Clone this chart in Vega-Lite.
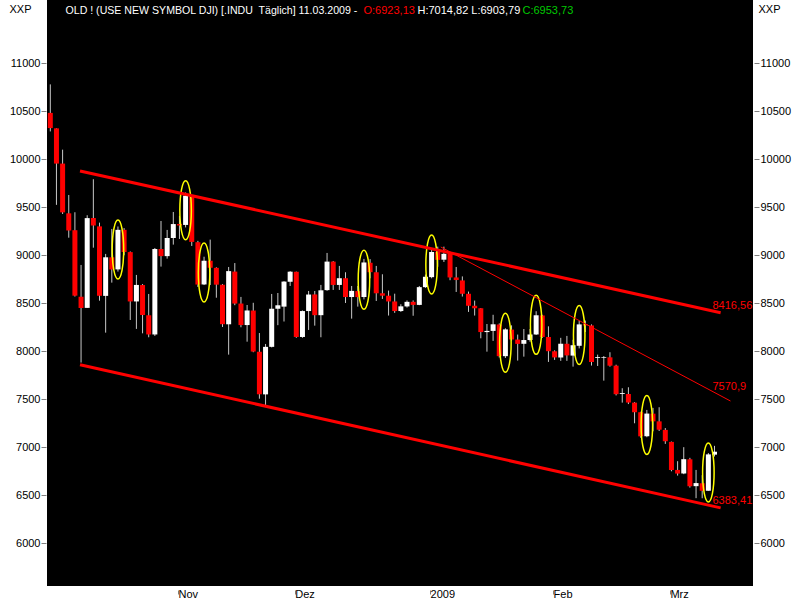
{
  "$schema": "https://vega.github.io/schema/vega-lite/v6.json",
  "width": 706,
  "height": 586,
  "autosize": {"type": "none"},
  "padding": {"left": 47, "top": 0, "right": 47, "bottom": 14},
  "background": "#ffffff",
  "config": {
    "view": {"fill": "#000000", "stroke": null},
    "font": "Liberation Sans",
    "scale": {"continuousPadding": 0},
    "axis": {
      "grid": false,
      "domain": false,
      "labelFont": "Liberation Sans",
      "titleFont": "Liberation Sans",
      "labelFontSize": 11,
      "titleFontSize": 11,
      "titleFontWeight": "normal",
      "labelColor": "#000000",
      "titleColor": "#000000",
      "tickColor": "#808080"
    }
  },
  "datasets": {
    "candles": [
      {"i": 0, "date": "2008-10-03", "open": 10483, "high": 10780, "low": 10290, "close": 10325},
      {"i": 1, "date": "2008-10-06", "open": 10322, "high": 10322, "low": 9525, "close": 9955},
      {"i": 2, "date": "2008-10-07", "open": 9955, "high": 10100, "low": 9430, "close": 9447},
      {"i": 3, "date": "2008-10-08", "open": 9437, "high": 9628, "low": 9183, "close": 9258},
      {"i": 4, "date": "2008-10-09", "open": 9261, "high": 9448, "low": 8570, "close": 8579},
      {"i": 5, "date": "2008-10-10", "open": 8568, "high": 8899, "low": 7882, "close": 8451},
      {"i": 6, "date": "2008-10-13", "open": 8452, "high": 9417, "low": 8452, "close": 9387},
      {"i": 7, "date": "2008-10-14", "open": 9388, "high": 9792, "low": 9079, "close": 9310},
      {"i": 8, "date": "2008-10-15", "open": 9301, "high": 9340, "low": 8527, "close": 8578},
      {"i": 9, "date": "2008-10-16", "open": 8577, "high": 9014, "low": 8194, "close": 8979},
      {"i": 10, "date": "2008-10-17", "open": 8979, "high": 9274, "low": 8715, "close": 8852},
      {"i": 11, "date": "2008-10-20", "open": 8853, "high": 9300, "low": 8830, "close": 9265},
      {"i": 12, "date": "2008-10-21", "open": 9265, "high": 9283, "low": 9000, "close": 9034},
      {"i": 13, "date": "2008-10-22", "open": 9033, "high": 9040, "low": 8326, "close": 8519},
      {"i": 14, "date": "2008-10-23", "open": 8519, "high": 8795, "low": 8233, "close": 8691},
      {"i": 15, "date": "2008-10-24", "open": 8690, "high": 8700, "low": 8187, "close": 8378},
      {"i": 16, "date": "2008-10-27", "open": 8375, "high": 8597, "low": 8146, "close": 8175},
      {"i": 17, "date": "2008-10-28", "open": 8175, "high": 9076, "low": 8160, "close": 9065},
      {"i": 18, "date": "2008-10-29", "open": 9065, "high": 9357, "low": 8882, "close": 8991},
      {"i": 19, "date": "2008-10-30", "open": 8991, "high": 9264, "low": 8965, "close": 9180},
      {"i": 20, "date": "2008-10-31", "open": 9180, "high": 9451, "low": 9111, "close": 9325},
      {"i": 21, "date": "2008-11-03", "open": 9326, "high": 9410, "low": 9170, "close": 9310},
      {"i": 22, "date": "2008-11-04", "open": 9316, "high": 9654, "low": 9290, "close": 9621},
      {"i": 23, "date": "2008-11-05", "open": 9617, "high": 9625, "low": 9097, "close": 9139},
      {"i": 24, "date": "2008-11-06", "open": 9136, "high": 9150, "low": 8670, "close": 8695},
      {"i": 25, "date": "2008-11-07", "open": 8696, "high": 8985, "low": 8690, "close": 8943},
      {"i": 26, "date": "2008-11-10", "open": 8943, "high": 9163, "low": 8690, "close": 8870},
      {"i": 27, "date": "2008-11-11", "open": 8869, "high": 8875, "low": 8558, "close": 8694},
      {"i": 28, "date": "2008-11-12", "open": 8693, "high": 8700, "low": 8253, "close": 8282},
      {"i": 29, "date": "2008-11-13", "open": 8281, "high": 8878, "low": 7965, "close": 8835},
      {"i": 30, "date": "2008-11-14", "open": 8830, "high": 8919, "low": 8480, "close": 8497},
      {"i": 31, "date": "2008-11-17", "open": 8497, "high": 8566, "low": 8250, "close": 8273},
      {"i": 32, "date": "2008-11-18", "open": 8273, "high": 8482, "low": 8100, "close": 8425},
      {"i": 33, "date": "2008-11-19", "open": 8424, "high": 8505, "low": 7990, "close": 7997},
      {"i": 34, "date": "2008-11-20", "open": 7995, "high": 8190, "low": 7506, "close": 7552},
      {"i": 35, "date": "2008-11-21", "open": 7551, "high": 8076, "low": 7430, "close": 8046},
      {"i": 36, "date": "2008-11-24", "open": 8046, "high": 8597, "low": 8040, "close": 8443},
      {"i": 37, "date": "2008-11-25", "open": 8443, "high": 8607, "low": 8272, "close": 8479},
      {"i": 38, "date": "2008-11-26", "open": 8465, "high": 8730, "low": 8310, "close": 8726},
      {"i": 39, "date": "2008-11-28", "open": 8724, "high": 8835, "low": 8680, "close": 8829},
      {"i": 40, "date": "2008-12-01", "open": 8828, "high": 8830, "low": 8140, "close": 8149},
      {"i": 41, "date": "2008-12-02", "open": 8149, "high": 8425, "low": 8140, "close": 8419},
      {"i": 42, "date": "2008-12-03", "open": 8419, "high": 8628, "low": 8222, "close": 8591},
      {"i": 43, "date": "2008-12-04", "open": 8592, "high": 8628, "low": 8267, "close": 8376},
      {"i": 44, "date": "2008-12-05", "open": 8376, "high": 8691, "low": 8146, "close": 8635},
      {"i": 45, "date": "2008-12-08", "open": 8637, "high": 9024, "low": 8630, "close": 8934},
      {"i": 46, "date": "2008-12-09", "open": 8934, "high": 8940, "low": 8639, "close": 8691},
      {"i": 47, "date": "2008-12-10", "open": 8691, "high": 8889, "low": 8639, "close": 8761},
      {"i": 48, "date": "2008-12-11", "open": 8761, "high": 8823, "low": 8503, "close": 8565},
      {"i": 49, "date": "2008-12-12", "open": 8565, "high": 8680, "low": 8340, "close": 8629},
      {"i": 50, "date": "2008-12-15", "open": 8627, "high": 8680, "low": 8465, "close": 8564},
      {"i": 51, "date": "2008-12-16", "open": 8565, "high": 8962, "low": 8540, "close": 8925},
      {"i": 52, "date": "2008-12-17", "open": 8922, "high": 8960, "low": 8760, "close": 8824},
      {"i": 53, "date": "2008-12-18", "open": 8823, "high": 8889, "low": 8524, "close": 8604},
      {"i": 54, "date": "2008-12-19", "open": 8604, "high": 8802, "low": 8545, "close": 8579},
      {"i": 55, "date": "2008-12-22", "open": 8579, "high": 8632, "low": 8372, "close": 8519},
      {"i": 56, "date": "2008-12-23", "open": 8519, "high": 8600, "low": 8400, "close": 8419},
      {"i": 57, "date": "2008-12-24", "open": 8419, "high": 8490, "low": 8410, "close": 8468},
      {"i": 58, "date": "2008-12-26", "open": 8467, "high": 8530, "low": 8455, "close": 8515},
      {"i": 59, "date": "2008-12-29", "open": 8515, "high": 8530, "low": 8370, "close": 8483},
      {"i": 60, "date": "2008-12-30", "open": 8483, "high": 8680, "low": 8480, "close": 8668},
      {"i": 61, "date": "2008-12-31", "open": 8668, "high": 8800, "low": 8660, "close": 8776},
      {"i": 62, "date": "2009-01-02", "open": 8772, "high": 9066, "low": 8760, "close": 9034},
      {"i": 63, "date": "2009-01-05", "open": 9034, "high": 9090, "low": 8880, "close": 8952},
      {"i": 64, "date": "2009-01-06", "open": 8954, "high": 9090, "low": 8930, "close": 9015},
      {"i": 65, "date": "2009-01-07", "open": 9016, "high": 9020, "low": 8740, "close": 8769},
      {"i": 66, "date": "2009-01-08", "open": 8769, "high": 8878, "low": 8618, "close": 8742},
      {"i": 67, "date": "2009-01-09", "open": 8738, "high": 8780, "low": 8570, "close": 8599},
      {"i": 68, "date": "2009-01-12", "open": 8599, "high": 8622, "low": 8410, "close": 8474},
      {"i": 69, "date": "2009-01-13", "open": 8474, "high": 8528, "low": 8372, "close": 8448},
      {"i": 70, "date": "2009-01-14", "open": 8448, "high": 8450, "low": 8135, "close": 8200},
      {"i": 71, "date": "2009-01-15", "open": 8200, "high": 8284, "low": 7996, "close": 8212},
      {"i": 72, "date": "2009-01-16", "open": 8212, "high": 8380, "low": 8108, "close": 8281},
      {"i": 73, "date": "2009-01-20", "open": 8279, "high": 8290, "low": 7935, "close": 7949},
      {"i": 74, "date": "2009-01-21", "open": 7949, "high": 8240, "low": 7930, "close": 8228},
      {"i": 75, "date": "2009-01-22", "open": 8226, "high": 8270, "low": 8110, "close": 8123},
      {"i": 76, "date": "2009-01-23", "open": 8122, "high": 8174, "low": 7903, "close": 8077},
      {"i": 77, "date": "2009-01-26", "open": 8078, "high": 8232, "low": 7944, "close": 8117},
      {"i": 78, "date": "2009-01-27", "open": 8117, "high": 8232, "low": 8100, "close": 8175},
      {"i": 79, "date": "2009-01-28", "open": 8175, "high": 8417, "low": 8170, "close": 8375},
      {"i": 80, "date": "2009-01-29", "open": 8373, "high": 8380, "low": 8140, "close": 8149},
      {"i": 81, "date": "2009-01-30", "open": 8149, "high": 8260, "low": 7889, "close": 8001},
      {"i": 82, "date": "2009-02-02", "open": 8000, "high": 8010, "low": 7910, "close": 7936},
      {"i": 83, "date": "2009-02-03", "open": 7936, "high": 8140, "low": 7900, "close": 8078},
      {"i": 84, "date": "2009-02-04", "open": 8078, "high": 8160, "low": 7900, "close": 7957},
      {"i": 85, "date": "2009-02-05", "open": 7955, "high": 8120, "low": 7840, "close": 8063},
      {"i": 86, "date": "2009-02-06", "open": 8057, "high": 8316, "low": 8030, "close": 8280},
      {"i": 87, "date": "2009-02-09", "open": 8281, "high": 8320, "low": 8200, "close": 8270},
      {"i": 88, "date": "2009-02-10", "open": 8269, "high": 8280, "low": 7851, "close": 7888},
      {"i": 89, "date": "2009-02-11", "open": 7930, "high": 7965, "low": 7847, "close": 7939},
      {"i": 90, "date": "2009-02-12", "open": 7930, "high": 7950, "low": 7694, "close": 7937},
      {"i": 91, "date": "2009-02-13", "open": 7937, "high": 7990, "low": 7840, "close": 7850},
      {"i": 92, "date": "2009-02-17", "open": 7850, "high": 7860, "low": 7540, "close": 7553},
      {"i": 93, "date": "2009-02-18", "open": 7556, "high": 7615, "low": 7465, "close": 7565},
      {"i": 94, "date": "2009-02-19", "open": 7555, "high": 7625, "low": 7450, "close": 7466},
      {"i": 95, "date": "2009-02-20", "open": 7465, "high": 7470, "low": 7250, "close": 7365},
      {"i": 96, "date": "2009-02-23", "open": 7365, "high": 7370, "low": 7100, "close": 7114},
      {"i": 97, "date": "2009-02-24", "open": 7115, "high": 7389, "low": 7105, "close": 7351},
      {"i": 98, "date": "2009-02-25", "open": 7350, "high": 7410, "low": 7167, "close": 7270},
      {"i": 99, "date": "2009-02-26", "open": 7270, "high": 7417, "low": 7170, "close": 7183},
      {"i": 100, "date": "2009-02-27", "open": 7181, "high": 7200, "low": 7035, "close": 7063},
      {"i": 101, "date": "2009-03-02", "open": 7056, "high": 7060, "low": 6750, "close": 6763},
      {"i": 102, "date": "2009-03-03", "open": 6764, "high": 6855, "low": 6705, "close": 6726},
      {"i": 103, "date": "2009-03-04", "open": 6727, "high": 7001, "low": 6720, "close": 6876},
      {"i": 104, "date": "2009-03-05", "open": 6875, "high": 6890, "low": 6580, "close": 6594},
      {"i": 105, "date": "2009-03-06", "open": 6595, "high": 6764, "low": 6470, "close": 6627},
      {"i": 106, "date": "2009-03-09", "open": 6625, "high": 6709, "low": 6469, "close": 6547},
      {"i": 107, "date": "2009-03-10", "open": 6547, "high": 6940, "low": 6547, "close": 6926},
      {"i": 108, "date": "2009-03-11", "open": 6923.13, "high": 7014.82, "low": 6903.79, "close": 6953.73}
    ],
    "lines": [
      {"line": "upper", "i": 4.83, "value": 9878},
      {"line": "upper", "i": 109, "value": 8402},
      {"line": "lower", "i": 4.83, "value": 7860},
      {"line": "lower", "i": 109, "value": 6369},
      {"line": "trend", "i": 63.5, "value": 9086},
      {"line": "trend", "i": 110.6, "value": 7482}
    ],
    "labels": [
      {"i": 108, "value": 8416.56, "label": "8416,56"},
      {"i": 108, "value": 7570.9, "label": "7570,9"},
      {"i": 108, "value": 6383.41, "label": "6383,41"}
    ]
  },
  "resolve": {"axis": {"x": "independent", "y": "independent"}},
  "layer": [
    {
      "data": {"name": "candles"},
      "mark": {"type": "rule", "color": "#c8c8c8", "strokeWidth": 1},
      "encoding": {
        "x": {
          "field": "i", "type": "quantitative",
          "scale": {"domain": [-0.537, 114.26], "nice": false, "zero": false, "padding": 0},
          "axis": {
            "orient": "bottom",
            "values": [21, 40, 62, 82, 101],
            "labelExpr": "datum.value == 21 ? 'Nov' : datum.value == 40 ? 'Dez' : datum.value == 62 ? '2009' : datum.value == 82 ? 'Feb' : 'Mrz'",
            "offset": 4, "tickSize": 4, "tickOffset": -1.5,
            "labelAlign": "left", "labelBaseline": "top", "labelPadding": -6,
            "labelFlush": false, "labelOverlap": false, "labelBound": false,
            "title": null
          }
        },
        "y": {
          "field": "low", "type": "quantitative",
          "scale": {"domain": [5555, 11659], "nice": false, "zero": false, "padding": 0},
          "axis": {
            "orient": "left",
            "values": [6000, 6500, 7000, 7500, 8000, 8500, 9000, 9500, 10000, 10500, 11000],
            "format": "d", "tickSize": 5, "offset": 1, "labelPadding": 1,
            "title": "XXP", "titleAngle": 0, "titleAlign": "left", "titleBaseline": "top",
            "titleX": -37, "titleY": 3
          }
        },
        "y2": {"field": "high"}
      }
    },
    {
      "data": {"name": "candles"},
      "mark": {"type": "bar", "width": 5},
      "encoding": {
        "x": {
          "field": "i", "type": "quantitative",
          "scale": {"domain": [-0.537, 114.26], "nice": false, "zero": false, "padding": 0},
          "axis": {
            "orient": "top", "labels": false, "ticks": false, "domain": false,
            "title": "OLD ! (USE NEW SYMBOL DJI) [.INDU\u00a0 Täglich] 11.03.2009 -",
            "titleColor": "#ffffff", "titleFontSize": 10.6, "titleX": 18, "titleY": 13,
            "titleAlign": "left", "titleBaseline": "alphabetic", "titleAngle": 0
          }
        },
        "y": {
          "field": "open", "type": "quantitative",
          "scale": {"domain": [5555, 11659], "nice": false, "zero": false, "padding": 0},
          "axis": {
            "orient": "right",
            "values": [6000, 6500, 7000, 7500, 8000, 8500, 9000, 9500, 10000, 10500, 11000],
            "format": "d", "tickSize": 5, "offset": 1, "labelPadding": 1,
            "title": "XXP", "titleAngle": 0, "titleAlign": "left", "titleBaseline": "top",
            "titleX": 4, "titleY": 3
          }
        },
        "y2": {"field": "close"},
        "color": {"condition": {"test": "datum.close >= datum.open", "value": "#ffffff"}, "value": "#ff0000"}
      }
    },
    {
      "data": {"name": "candles"},
      "transform": [
        {"filter": "indexof([11, 22, 25, 51, 62, 74, 79, 86, 97, 107], datum.i) >= 0"},
        {"calculate": "(datum.open + datum.close) / 2", "as": "mid"}
      ],
      "mark": {
        "type": "point",
        "shape": "M0,-1A0.195,1,0,1,1,0,1A0.195,1,0,1,1,0,-1Z",
        "size": 3481, "filled": false, "stroke": "#ffff00", "strokeWidth": 1.5, "opacity": 1
      },
      "encoding": {
        "x": {
          "field": "i", "type": "quantitative",
          "scale": {"domain": [-0.537, 114.26], "nice": false, "zero": false, "padding": 0},
          "axis": {
            "orient": "top", "labels": false, "ticks": false, "domain": false,
            "title": "C:6953,73",
            "titleColor": "#00c800", "titleX": 475, "titleY": 13,
            "titleAlign": "left", "titleBaseline": "alphabetic", "titleAngle": 0
          }
        },
        "y": {
          "field": "mid", "type": "quantitative",
          "scale": {"domain": [5555, 11659], "nice": false, "zero": false, "padding": 0},
          "axis": null
        }
      }
    },
    {
      "data": {"name": "lines"},
      "transform": [{"filter": "datum.line != 'trend'"}],
      "mark": {"type": "line", "color": "#ff0000", "strokeWidth": 3},
      "encoding": {
        "x": {
          "field": "i", "type": "quantitative",
          "scale": {"domain": [-0.537, 114.26], "nice": false, "zero": false, "padding": 0},
          "axis": {
            "orient": "top", "labels": false, "ticks": false, "domain": false,
            "title": "O:6923,13",
            "titleColor": "#ff0000", "titleX": 316, "titleY": 13,
            "titleAlign": "left", "titleBaseline": "alphabetic", "titleAngle": 0
          }
        },
        "y": {
          "field": "value", "type": "quantitative",
          "scale": {"domain": [5555, 11659], "nice": false, "zero": false, "padding": 0},
          "axis": null
        },
        "detail": {"field": "line"}
      }
    },
    {
      "data": {"name": "lines"},
      "transform": [{"filter": "datum.line == 'trend'"}],
      "mark": {"type": "line", "color": "#ff0000", "strokeWidth": 1},
      "encoding": {
        "x": {
          "field": "i", "type": "quantitative",
          "scale": {"domain": [-0.537, 114.26], "nice": false, "zero": false, "padding": 0},
          "axis": {
            "orient": "top", "labels": false, "ticks": false, "domain": false,
            "title": "H:7014,82 L:6903,79",
            "titleColor": "#ffffff", "titleX": 370, "titleY": 13,
            "titleAlign": "left", "titleBaseline": "alphabetic", "titleAngle": 0
          }
        },
        "y": {
          "field": "value", "type": "quantitative",
          "scale": {"domain": [5555, 11659], "nice": false, "zero": false, "padding": 0},
          "axis": null
        }
      }
    },
    {
      "data": {"name": "labels"},
      "mark": {"type": "text", "color": "#ff0000", "fontSize": 11, "font": "Liberation Sans", "align": "left", "baseline": "bottom", "dx": -2},
      "encoding": {
        "x": {
          "field": "i", "type": "quantitative",
          "scale": {"domain": [-0.537, 114.26], "nice": false, "zero": false, "padding": 0},
          "axis": null
        },
        "y": {
          "field": "value", "type": "quantitative",
          "scale": {"domain": [5555, 11659], "nice": false, "zero": false, "padding": 0},
          "axis": null
        },
        "text": {"field": "label"}
      }
    }
  ]
}
